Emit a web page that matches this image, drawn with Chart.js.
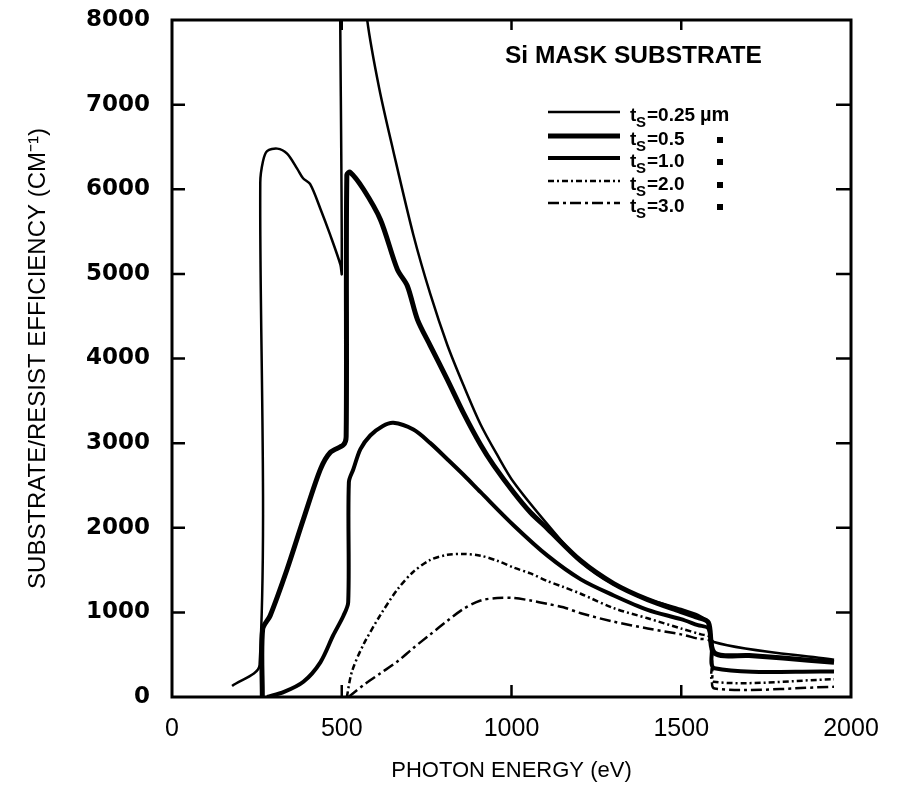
<!DOCTYPE html>
<html lang="en">
<head>
  <meta charset="UTF-8">
  <title>Si Mask Substrate Efficiency</title>
  <script src="https://cdn.jsdelivr.net/npm/chart.js"></script>
  <style>
    body {
      margin: 0;
      background: #fff;
    }
    #chart {
      display: block;
    }
  </style>
</head>
<body>
  <canvas id="chart" width="897" height="795"></canvas>

  <script>
    // photon energy (eV) and efficiency (cm^-1) per substrate thickness
    const e025 = [177, 258, 260, 268, 280, 310, 339, 369, 386, 407, 437, 466, 496, 500, 501, 575, 610, 652, 711, 761, 811, 858, 909, 958, 1006, 1106, 1204, 1301, 1401, 1499, 1549, 1578, 1596, 1950];
    const v025 = [130, 380, 6080, 6330, 6450, 6480, 6420, 6240, 6130, 6060, 5770, 5460, 5110, 5000, 10500, 8000, 7200, 6450, 5460, 4760, 4160, 3690, 3220, 2860, 2540, 2040, 1600, 1330, 1160, 1040, 970, 880, 650, 440];

    const e05 = [266, 267, 289, 339, 387, 437, 466, 505, 513, 515, 525, 564, 614, 664, 693, 723, 761, 811, 858, 909, 947, 1006, 1056, 1106, 1204, 1301, 1401, 1499, 1549, 1580, 1598, 1700, 1800, 1950];
    const v05 = [0, 800, 960, 1510, 2100, 2690, 2890, 2980, 3080, 6170, 6200, 6000, 5640, 5050, 4860, 4460, 4150, 3750, 3360, 2980, 2740, 2420, 2180, 1990, 1610, 1340, 1150, 1010, 940, 880, 520, 490, 460, 410];

    const e10 = [280, 330, 387, 437, 475, 505, 519, 521, 534, 555, 584, 620, 652, 711, 761, 811, 860, 909, 1006, 1106, 1204, 1301, 1401, 1499, 1549, 1580, 1590, 1598, 1950];
    const v10 = [0, 60, 180, 410, 730, 960, 1120, 2540, 2690, 2930, 3090, 3200, 3240, 3160, 3000, 2810, 2620, 2420, 2030, 1670, 1390, 1200, 1030, 920, 850, 810, 600, 340, 300];

    const e20 = [515, 530, 564, 614, 664, 711, 761, 811, 858, 909, 958, 1006, 1056, 1106, 1153, 1204, 1301, 1401, 1499, 1558, 1582, 1590, 1596, 1950];
    const v20 = [0, 300, 620, 970, 1270, 1480, 1620, 1680, 1690, 1670, 1610, 1530, 1460, 1370, 1300, 1220, 1050, 930, 810, 740, 710, 400, 180, 210];

    const e30 = [520, 564, 614, 664, 711, 761, 811, 858, 909, 958, 1006, 1056, 1106, 1153, 1204, 1301, 1401, 1499, 1549, 1584, 1592, 1598, 1950];
    const v30 = [0, 140, 280, 420, 580, 740, 900, 1040, 1140, 1170, 1170, 1140, 1100, 1060, 990, 890, 810, 740, 690, 660, 300, 100, 120];

    const thickness = ['0.25', '0.5', '1.0', '2.0', '3.0'];
    const xTicks = [500, 1000, 1500];
    const yTicks = [1000, 2000, 3000, 4000, 5000, 6000, 7000];

    function pts(xs, ys) {
      return xs.map((x, i) => ({ x: x, y: ys[i] }));
    }

    // box, inward tick marks and the hand-drawn style legend
    const frame = {
      id: 'frame',
      afterDraw(chart) {
        const { ctx, chartArea: a, scales: { x, y } } = chart;
        ctx.save();
        ctx.strokeStyle = '#000';
        ctx.fillStyle = '#000';
        ctx.lineWidth = 3;
        ctx.strokeRect(a.left, a.top, a.right - a.left, a.bottom - a.top);

        ctx.lineWidth = 2.5;
        ctx.beginPath();
        yTicks.forEach(v => {
          const py = y.getPixelForValue(v);
          ctx.moveTo(a.left, py); ctx.lineTo(a.left + 13, py);
          ctx.moveTo(a.right, py); ctx.lineTo(a.right - 15, py);
        });
        xTicks.forEach(v => {
          const px = x.getPixelForValue(v);
          ctx.moveTo(px, a.bottom); ctx.lineTo(px, a.bottom - 12);
          ctx.moveTo(px, a.top); ctx.lineTo(px, a.top + 10);
        });
        ctx.stroke();

        ctx.font = 'bold 24.5px "Liberation Sans"';
        ctx.textBaseline = 'alphabetic';
        ctx.fillText('Si MASK SUBSTRATE', 505, 63);

        const rowY = [112, 136, 158, 181, 203];
        chart.data.datasets.forEach((ds, i) => {
          const yy = rowY[i];
          ctx.lineWidth = ds.borderWidth;
          ctx.setLineDash(ds.borderDash || []);
          ctx.beginPath();
          ctx.moveTo(548, yy); ctx.lineTo(620, yy);
          ctx.stroke();
          ctx.setLineDash([]);
          ctx.font = 'bold 19px "Liberation Sans"';
          ctx.fillText('t', 630, yy + 9);
          ctx.font = 'bold 15px "Liberation Sans"';
          ctx.fillText('S', 636, yy + 15);
          ctx.font = 'bold 19px "Liberation Sans"';
          ctx.fillText('=' + thickness[i], 647, yy + 9);
          if (i === 0) {
            ctx.font = 'bold 20px "Liberation Sans"';
            ctx.fillText('\u00b5m', 700, yy + 9);
          } else {
            ctx.fillRect(717, yy + 1, 6, 6);
          }
        });
        ctx.restore();
      }
    };

    const base = { borderColor: '#000', pointRadius: 0, fill: false, tension: 0.3 };

    new Chart(document.getElementById('chart'), {
      type: 'line',
      data: {
        datasets: [
          { ...base, label: 'tS=0.25 µm', data: pts(e025, v025), borderWidth: 2.5 },
          { ...base, label: 'tS=0.5', data: pts(e05, v05), borderWidth: 5 },
          { ...base, label: 'tS=1.0', data: pts(e10, v10), borderWidth: 4 },
          { ...base, label: 'tS=2.0', data: pts(e20, v20), borderWidth: 2.5, borderDash: [6, 3, 2, 3] },
          { ...base, label: 'tS=3.0', data: pts(e30, v30), borderWidth: 2.5, borderDash: [11, 4, 3, 4] }
        ]
      },
      options: {
        responsive: false,
        animation: false,
        devicePixelRatio: 1,
        layout: { padding: { left: 0, top: 20, right: 46, bottom: 0 } },
        plugins: {
          legend: { display: false },
          tooltip: { enabled: false }
        },
        scales: {
          x: {
            type: 'linear',
            min: 0,
            max: 2000,
            grid: { display: false, drawTicks: false },
            border: { display: false },
            ticks: {
              stepSize: 500,
              color: '#000',
              padding: 17,
              maxRotation: 0,
              callback: v => String(v),
              font: { family: 'Liberation Sans', size: 25 }
            },
            title: {
              display: true,
              text: 'PHOTON ENERGY (eV)',
              color: '#000',
              padding: { top: 0, bottom: 11 },
              font: { family: 'Liberation Sans', size: 22 }
            },
            afterFit(scale) {
              scale.height = 98;
              scale.paddingLeft = 0;
              scale.paddingRight = 0;
            }
          },
          y: {
            min: 0,
            max: 8000,
            grid: { display: false, drawTicks: false },
            border: { display: false },
            ticks: {
              stepSize: 1000,
              color: '#000',
              padding: 22,
              callback: v => String(v),
              font: { family: 'DejaVu Sans', size: 23, weight: 'bold' }
            },
            title: {
              display: true,
              text: 'SUBSTRATE/RESIST EFFICIENCY (CM\u207b\u00b9)',
              color: '#000',
              padding: { top: 24, bottom: 0 },
              font: { family: 'Liberation Sans', size: 24 }
            },
            afterFit(scale) {
              scale.width = 172;
              scale.paddingTop = 0;
              scale.paddingBottom = 0;
            }
          }
        }
      },
      plugins: [frame]
    });
  </script>
</body>
</html>
